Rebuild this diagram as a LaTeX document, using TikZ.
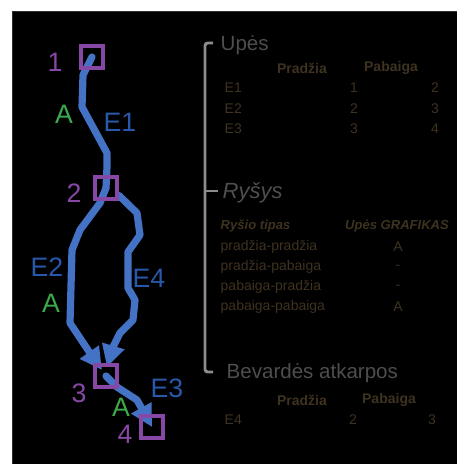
\documentclass[tikz,border=0pt]{standalone}
\usepackage{fontspec}
\setmainfont{Liberation Sans}
\usetikzlibrary{arrows.meta,calc}
\pgfdeclarelayer{back}
\pgfdeclarelayer{lines}
\pgfsetlayers{back,lines,main}

\definecolor{flow}{RGB}{68,114,196}
\definecolor{edgelbl}{RGB}{40,88,170}
\definecolor{vert}{RGB}{135,72,165}
\definecolor{agreen}{RGB}{60,170,75}
\definecolor{rulegray}{RGB}{140,140,140}
\definecolor{headtxt}{RGB}{78,78,78}
\definecolor{celltxt}{RGB}{62,50,32}
\definecolor{edgegray}{RGB}{48,48,48}

\tikzset{
  vertex/.style={draw=vert, line width=3pt, minimum size=16.5pt, inner sep=0pt},
  bigfont/.style={font=\fontsize{20}{20}\selectfont},
  vnum/.style={bigfont, text=vert},
  elbl/.style={bigfont, text=edgelbl},
  albl/.style={bigfont, text=agreen},
  flowline/.style={draw=flow, line width=5.4pt, line join=round, line cap=round},
  flowarrow/.style={flowline, -{Triangle[width=16.5pt,length=16.5pt]}},
  sechead/.style={anchor=west, text=headtxt, font=\fontsize{15.4}{17}\selectfont},
  colhead/.style={text=celltxt, font=\bfseries\fontsize{10.5}{12}\selectfont},
  colheadit/.style={text=celltxt, font=\bfseries\itshape\fontsize{9.8}{12}\selectfont},
  cell/.style={text=celltxt, font=\fontsize{10.5}{12}\selectfont},
  cellw/.style={cell, anchor=west},
}

\begin{document}
\begin{tikzpicture}[x=0.75pt, y=-0.75pt]
\useasboundingbox (0,0) rectangle (457,464);

\begin{pgfonlayer}{back}
  \fill[black] (12,11) rectangle (457,464);
  \draw[edgegray, line width=0.8pt] (12,11.5) -- (457,11.5);
  \draw[edgegray, line width=0.8pt] (12.5,11) -- (12.5,464);
\end{pgfonlayer}

% vertices of the network
\node[vertex] (n1) at (92,57) {};
\node[vertex] (n2) at (106,188) {};
\node[vertex] (n3) at (106,376) {};
\node[vertex] (n4) at (152,427) {};

\node[vnum] (l1) at (55,62) {1};
\node[vnum] (l2) at (74,193) {2};
\node[vnum] (l3) at (79,393) {3};
\node[vnum] (l4) at (125,434) {4};

% flows between the vertices
\begin{pgfonlayer}{lines}
  \draw[flowline] (n1.center) -- (83,75) -- (82,107) -- (107,153) -- (107,167) -- (n2.center);
  \draw[flowarrow] (n2.center) -- (100,203) -- (80,230) -- (72,250) -- (70,323) -- (90,353)
        -- ($(n3.center)+(-4,-6)$);
  \draw[flowarrow] (n2.-30) -- (137,213) -- (140,235) -- (128,252) -- (128,288) -- (135,300)
        -- (133,320) -- (120,333) -- (113,347) -- ($(n3.center)+(1,-9)$);
  \draw[flowarrow] (n3.center) -- (117,387) -- (137,400) -- (n4.center);
\end{pgfonlayer}

% edge names and marks
\node[elbl] (e1) at (120,122) {E1};
\node[elbl] (e2) at (47,267) {E2};
\node[elbl] (e4) at (149,278) {E4};
\node[elbl] (e3) at (167,388) {E3};
\node[albl] (a1) at (64,114) {A};
\node[albl] (a2) at (51,303) {A};
\node[albl] (a3) at (121,407) {A};

% bracket grouping the tables
\draw[rulegray, line width=2.2pt, rounded corners=2pt] (213,43) -- (205,43) -- (205,372) -- (213,372);
\draw[rulegray, line width=2.2pt] (205,191) -- (218,191);

% rivers
\node[sechead] (h1) at (216,45) {Upės};
\node[colhead] (t1a) at (302,68) {Pradžia};
\node[colhead] (t1b) at (391,68) {Pabaiga};
\node[cellw] (r1) at (220,88) {E1};
\node[cellw] (r2) at (220,109) {E2};
\node[cellw] (r3) at (220,129) {E3};
\node[cell] (r1a) at (354,88) {1};
\node[cell] (r1b) at (435,88) {2};
\node[cell] (r2a) at (354,109) {2};
\node[cell] (r2b) at (435,109) {3};
\node[cell] (r3a) at (354,129) {3};
\node[cell] (r3b) at (435,129) {4};

% links
\node[sechead, font=\itshape\fontsize{16.5}{18}\selectfont] (h2) at (218,193) {Ryšys};
\node[colheadit, anchor=west] (t2a) at (216,226) {Ryšio tipas};
\node[colheadit] (t2b) at (397,226) {Upės GRAFIKAS};
\node[cellw] (k1) at (216,247) {pradžia-pradžia};
\node[cellw] (k2) at (216,267) {pradžia-pabaiga};
\node[cellw] (k3) at (216,287) {pabaiga-pradžia};
\node[cellw] (k4) at (216,307) {pabaiga-pabaiga};
\node[cell] (k1v) at (398,247) {A};
\node[cell] (k2v) at (398,267) {-};
\node[cell] (k3v) at (398,287) {-};
\node[cell] (k4v) at (398,307) {A};

% unnamed segments
\node[sechead] (h3) at (222,373) {Bevardės atkarpos};
\node[colhead] (t3a) at (302,400) {Pradžia};
\node[colhead] (t3b) at (389,400) {Pabaiga};
\node[cellw] (s1) at (220,420) {E4};
\node[cell] (s1a) at (353,420) {2};
\node[cell] (s1b) at (432,420) {3};
\end{tikzpicture}
\end{document}
